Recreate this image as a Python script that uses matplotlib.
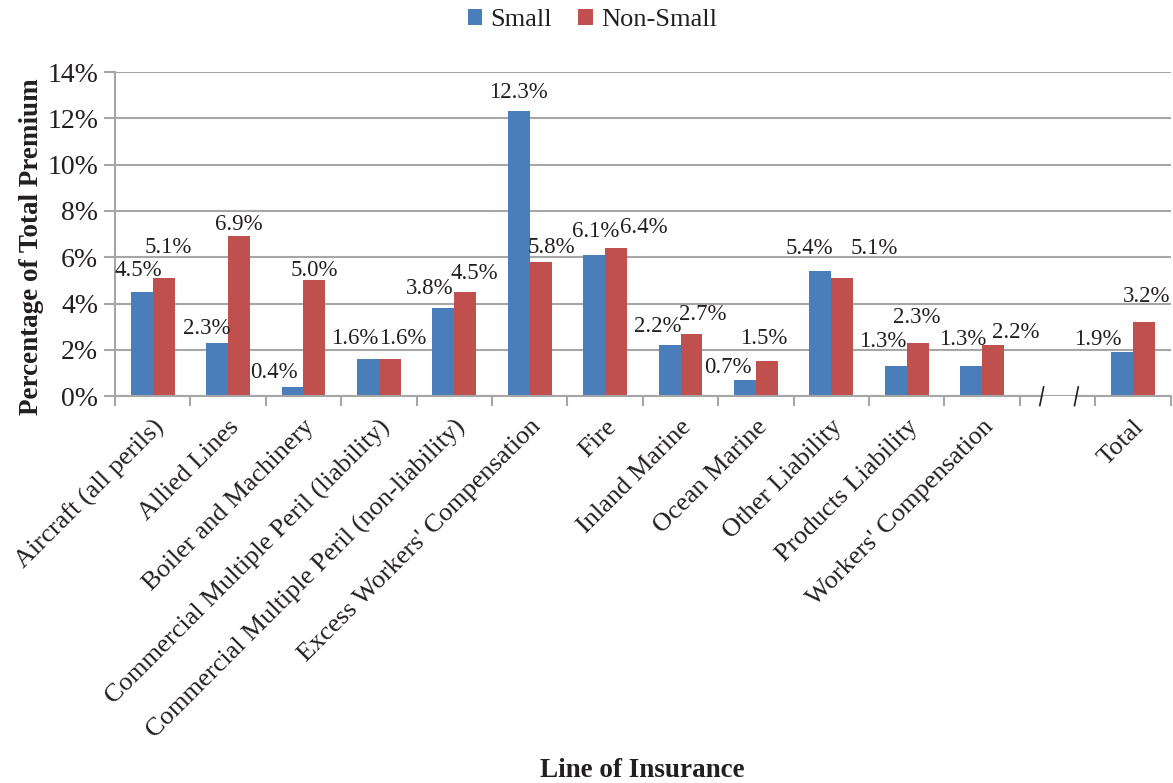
import matplotlib
matplotlib.use('Agg')
import matplotlib.pyplot as plt
import matplotlib.ticker as ticker
import numpy as np


categories = [
    'Aircraft (all perils)',
    'Allied Lines',
    'Boiler and Machinery',
    'Commercial Multiple Peril (liability)',
    'Commercial Multiple Peril (non-liability)',
    "Excess Workers' Compensation",
    'Fire',
    'Inland Marine',
    'Ocean Marine',
    'Other Liability',
    'Products Liability',
    "Workers' Compensation",
    ]
small = [4.5, 2.3, 0.4, 1.6, 3.8, 12.3, 6.1, 2.2, 0.7, 5.4, 1.3, 1.3]
non_small = [5.1, 6.9, 5.0, 1.6, 4.5, 5.8, 6.4, 2.7, 1.5, 5.1, 2.3, 2.2]
total_label = 'Total'
total_small = 1.9
total_non_small = 3.2

# hand placed value labels: (dx, dy) in pixels from the top centre of each bar
small_label_shift = [(-3, 16), (-10, 9), (-19, 9), (-13, 15), (-14, 14), (0, 13), (2, 18),
    (-12, 13), (-17, 7), (-11, 17), (-13, 19), (-8, 21), None, (-24, 7)]
non_small_label_shift = [(5, 25), (0, 6), (0, 4), (13, 15), (9, 13), (11, 9), (28, 15),
    (11, 14), (-3, 17), (32, 24), (-1, 20), (23, 7), None, (3, 20)]

blue = '#4A7EBB'
red = '#C0504D'
grid_grey = '#A6A6A6'
text_color = '#231F20'

plt.rcParams['font.family'] = ['Liberation Serif', 'DejaVu Serif']
plt.rcParams['text.color'] = text_color
plt.rcParams['xtick.color'] = text_color
plt.rcParams['ytick.color'] = text_color


def percent_formatter(x, pos = 0):
    return '%1.0f%%' % x


# one empty slot between the lines of insurance and the total
labels = categories + ['', total_label]
small_all = small + [np.nan, total_small]
non_small_all = non_small + [np.nan, total_non_small]
gap = len(categories)
centers = np.arange(len(labels)) + 0.5
width = 0.29

fig = plt.figure(figsize = (11.73, 7.83), dpi = 100)
axes = fig.add_axes([0.098, 0.494, 0.9, 0.414])

bars_small = axes.bar(centers - width / 2, small_all, width, color = blue, label = 'Small', zorder = 3)
bars_non_small = axes.bar(centers + width / 2, non_small_all, width, color = red, label = 'Non-Small', zorder = 3)

for bars, values, shifts in [(bars_small, small_all, small_label_shift),
        (bars_non_small, non_small_all, non_small_label_shift)]:
    for bar, value, shift in zip(bars, values, shifts):
        if np.isnan(value):
            continue
        axes.annotate(
            '%.1f%%' % value,
            xy = (bar.get_x() + bar.get_width() / 2, value),
            xytext = shift, textcoords = 'offset pixels',
            ha = 'center', va = 'baseline', fontsize = 16.5,
            )

axes.set_xlim(0, len(labels))
axes.set_ylim(0, 14)
axes.yaxis.set_major_locator(ticker.MultipleLocator(2))
axes.yaxis.set_major_formatter(ticker.FuncFormatter(percent_formatter))
axes.yaxis.grid(True, color = grid_grey, linewidth = 1.5, zorder = 0)
axes.set_axisbelow(True)

axes.set_xticks(np.arange(len(labels) + 1))
axes.set_xticklabels([])
axes.set_xticks(centers, minor = True)
axes.set_xticklabels(labels, minor = True, rotation = 45, ha = 'right', rotation_mode = 'anchor', fontsize = 19)
axes.tick_params(axis = 'x', which = 'major', length = 7, width = 1.5, color = grid_grey, direction = 'out')
axes.tick_params(axis = 'x', which = 'minor', length = 0, pad = 14)
axes.tick_params(axis = 'y', length = 8, width = 1.5, color = grid_grey, labelsize = 20, pad = 4)

for side in ['top', 'right', 'bottom']:
    axes.spines[side].set_visible(False)
axes.spines['left'].set_color(grid_grey)
axes.spines['left'].set_linewidth(1.5)

# bottom axis line, broken in the empty slot with two slash marks
break_left = gap + 0.29
break_right = gap + 0.75
for x0, x1 in [(0, break_left), (break_right, len(labels))]:
    axes.plot([x0, x1], [0, 0], color = grid_grey, linewidth = 1.5, clip_on = False, zorder = 4)
for x in [break_left, break_right]:
    axes.plot([x - 0.025, x + 0.025], [-0.4, 0.4], color = text_color, linewidth = 1.2,
        clip_on = False, zorder = 5)

fig.text(0.027, 0.685, 'Percentage of Total Premium', rotation = 90, ha = 'center', va = 'center',
    fontsize = 19.5, fontweight = 'bold')
fig.text(0.548, 0.0, 'Line of Insurance', ha = 'center', va = 'bottom', fontsize = 19.5, fontweight = 'bold')

fig.legend(
    handles = [bars_small, bars_non_small],
    loc = 'upper center', bbox_to_anchor = (0.505, 0.995), ncol = 2, frameon = False,
    fontsize = 19, handlelength = 0.55, handleheight = 0.55, handletextpad = 0.3, columnspacing = 1.0,
    borderpad = 0.1, borderaxespad = 0.1,
    )

fig.savefig('out.png', dpi = 100)
